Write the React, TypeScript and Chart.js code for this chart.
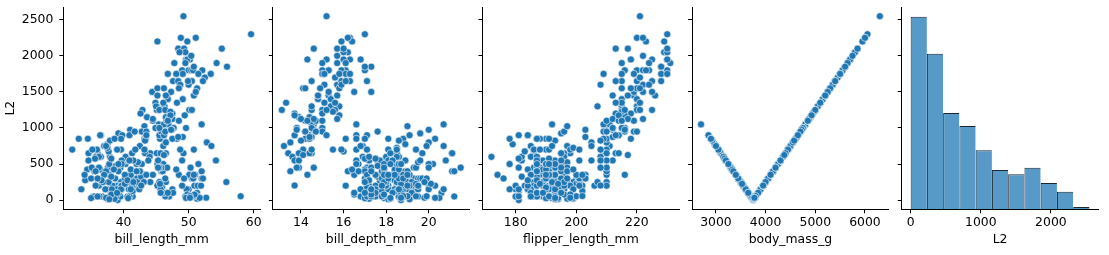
import React, { useEffect, useRef } from "react";
import { Chart, registerables } from "chart.js";

Chart.register(...registerables);

// [bill_length_mm, bill_depth_mm, flipper_length_mm, body_mass_g, L2]
const adelie: number[][] = [
  [39.1,18.7,181,3750,0],[39.5,17.4,186,3800,50],[40.3,18.0,195,3250,500],[36.7,19.3,193,3450,300],[39.3,20.6,190,3650,100],[38.9,17.8,181,3625,125],[39.2,19.6,195,4675,925],[34.1,18.1,193,3475,275],[42.0,20.2,190,4250,500],[37.8,17.1,186,3300,450],
  [37.8,17.3,180,3700,50],[41.1,17.6,182,3200,550],[38.6,21.2,191,3800,51],[34.6,21.1,198,4400,650],[36.6,17.8,185,3700,50],[38.7,19.0,195,3450,300],[42.5,20.7,197,4500,750],[34.4,18.4,184,3325,425],[46.0,21.5,194,4200,450],[37.8,18.3,174,3400,350],
  [37.7,18.7,180,3600,150],[35.9,19.2,189,3800,51],[38.2,18.1,185,3950,200],[38.8,17.2,180,3800,50],[35.3,18.9,187,3800,50],[40.6,18.6,183,3550,200],[40.5,17.9,187,3200,550],[37.9,18.6,172,3150,600],[40.5,18.9,180,3950,200],[39.5,16.7,178,3250,500],
  [37.2,18.1,178,3900,150],[39.5,17.8,188,3300,450],[40.9,18.9,184,3900,150],[36.4,17.0,195,3325,425],[39.2,21.1,196,4150,400],[38.8,20.0,190,3950,200],[42.2,18.5,180,3550,200],[37.6,19.3,181,3300,450],[39.8,19.1,184,4650,900],[36.5,18.0,182,3150,600],
  [40.8,18.4,195,3900,150],[36.0,18.5,186,3100,650],[44.1,19.7,196,4400,650],[37.0,16.9,185,3000,750],[39.6,18.8,190,4600,850],[41.1,19.0,182,3425,325],[37.5,18.9,179,2975,775],[36.0,17.9,190,3450,300],[42.3,21.2,191,4150,400],[39.6,17.7,186,3500,250],
  [40.1,18.9,188,4300,550],[35.0,17.9,190,3450,300],[42.0,19.5,200,4050,300],[34.5,18.1,187,2900,850],[41.4,18.6,191,3700,51],[39.0,17.5,186,3550,200],[40.6,18.8,193,3800,51],[36.5,16.6,181,2850,900],[37.6,19.1,194,3750,13],[35.7,16.9,185,3150,600],
  [41.3,21.1,195,4400,650],[37.6,17.0,185,3600,150],[41.1,18.2,192,4050,300],[36.4,17.1,184,2850,900],[41.6,18.0,192,3950,200],[35.5,16.2,195,3350,400],[41.1,19.1,188,4100,350],[35.9,16.6,190,3050,700],[41.8,19.4,198,4450,700],[33.5,19.0,190,3600,150],
  [39.7,18.4,190,3900,150],[39.6,17.2,196,3550,200],[45.8,18.9,197,4150,400],[35.5,17.5,190,3700,51],[42.8,18.5,195,4250,500],[40.9,16.8,191,3700,51],[37.2,19.4,184,3900,150],[36.2,16.1,187,3550,200],[42.1,19.1,195,4000,250],[34.6,17.2,189,3200,550],
  [42.9,17.6,196,4700,950],[36.7,18.8,187,3800,50],[35.1,19.4,193,4200,450],[37.3,17.8,191,3350,400],[41.3,20.3,194,3550,200],[36.3,19.5,190,3800,51],[36.9,18.6,189,3500,250],[38.3,19.2,189,3950,200],[38.9,18.8,190,3600,150],[35.7,18.0,202,3550,201],
  [41.1,18.1,205,4300,550],[34.0,17.1,185,3400,350],[39.6,18.1,186,4450,700],[36.2,17.3,187,3300,450],[40.8,18.9,208,4300,550],[38.1,18.6,190,3700,51],[40.3,18.5,196,4350,600],[33.1,16.1,178,2900,850],[43.2,18.5,192,4100,350],[35.0,17.9,192,3725,28],
  [41.0,20.0,203,4725,975],[37.7,16.0,183,3075,675],[37.8,20.0,190,4250,500],[37.9,18.6,193,2925,825],[39.7,18.9,184,3550,200],[38.6,17.2,199,3750,18],[38.2,20.0,190,3900,150],[38.1,17.0,181,3175,575],[43.2,19.0,197,4775,1025],[38.1,16.5,198,3825,77],
  [45.6,20.3,191,4600,850],[39.7,17.7,193,3200,550],[42.2,19.5,197,4275,525],[39.6,20.7,191,3900,150],[42.7,18.3,196,4075,325],[38.6,17.0,188,2900,850],[37.3,20.5,199,3775,31],[35.7,17.0,189,3350,400],[41.1,18.6,189,3325,425],[36.2,17.2,187,3150,600],
  [37.7,19.8,198,3500,250],[40.2,17.0,176,3450,300],[41.4,18.5,202,3875,126],[35.2,15.9,186,3050,700],[40.6,19.0,199,4000,250],[38.8,17.6,191,3275,475],[41.5,18.3,195,4300,550],[39.0,17.1,191,3050,700],[44.1,18.0,210,4000,250],[38.5,17.9,190,3325,425],
  [43.1,19.2,197,3500,250],[36.8,18.5,193,3500,250],[37.5,18.5,199,4475,725],[38.1,17.6,187,3425,325],[41.1,17.5,190,3900,150],[35.6,17.5,191,3175,575],[40.2,20.1,200,3975,226],[37.0,16.5,185,3400,350],[39.7,17.9,193,4250,500],[40.2,17.1,193,3400,350],
  [40.6,17.2,187,3475,275],[32.1,15.5,188,3050,700],[40.7,17.0,190,3725,27],[37.3,16.8,192,3000,750],[39.0,18.7,185,3650,100],[39.2,18.6,190,4250,500],[36.6,18.4,184,3475,275],[36.0,17.8,195,3450,300],[37.8,18.1,193,3750,12],[36.0,17.1,187,3700,50],
  [41.5,18.5,201,4000,250],
];

const chinstrap: number[][] = [
  [46.5,17.9,192,3500,250],[50.0,19.5,196,3900,150],[51.3,19.2,193,3650,101],[45.4,18.7,188,3525,225],[52.7,19.8,197,3725,33],[45.2,17.8,198,3950,200],[46.1,18.2,178,3250,500],[51.3,18.2,197,3750,20],[46.0,18.9,195,4150,400],[51.3,19.9,198,3700,54],
  [46.6,17.8,193,3800,52],[51.7,20.3,194,3775,31],[47.0,17.3,185,3700,51],[52.0,18.1,201,4050,300],[45.9,17.1,190,3575,175],[50.5,19.6,201,4050,300],[50.3,20.0,197,3300,450],[58.0,17.8,181,3700,54],[46.4,18.6,190,3450,300],[49.2,18.2,195,4400,650],
  [42.4,17.3,181,3600,150],[48.5,17.5,191,3400,350],[43.2,16.6,187,2900,850],[50.6,19.4,193,3800,53],[46.7,17.9,195,3300,450],[52.0,19.0,197,4150,400],[50.5,18.4,200,3400,350],[49.5,19.0,200,3800,54],[46.4,17.8,191,3700,52],[52.8,20.0,205,4550,800],
  [40.9,16.6,187,3200,550],[54.2,20.8,201,4300,550],[42.5,16.7,187,3350,400],[51.0,18.8,203,4100,350],[49.7,18.6,195,3600,150],[47.5,16.8,199,3900,150],[47.6,18.3,195,3850,101],[52.0,20.7,210,4800,1050],[46.9,16.6,192,2700,1050],[53.5,19.9,205,4500,750],
  [49.0,19.5,210,3950,200],[46.2,17.5,187,3650,100],[50.9,19.1,196,3550,200],[45.5,17.0,196,3500,250],[50.9,17.9,196,3675,77],[50.8,18.5,201,4450,700],[50.1,17.9,190,3400,350],[49.0,19.6,212,4300,550],[51.5,18.7,187,3250,500],[49.8,17.3,198,3675,78],
  [48.1,16.4,199,3325,425],[51.4,19.0,201,3950,200],[45.7,17.3,193,3600,150],[50.7,19.7,203,4050,300],[42.5,17.3,187,3350,400],[52.2,18.8,197,3450,300],[45.2,16.6,191,3250,500],[49.3,19.9,203,4050,300],[50.2,18.8,202,3800,56],[45.6,19.4,194,3525,225],
  [51.9,19.5,206,3950,200],[46.8,16.5,189,3650,101],[45.7,17.0,195,3650,101],[55.8,19.8,207,4000,250],[43.5,18.1,202,3400,350],[49.6,18.2,193,3775,30],[50.8,19.0,210,4100,350],[50.2,18.7,198,3775,32],
];

const gentoo: number[][] = [
  [46.1,13.2,211,4500,750],[50.0,16.3,230,5700,1950],[48.7,14.1,210,4450,700],[50.0,15.2,218,5700,1950],[47.6,14.5,215,5400,1650],[46.5,13.5,210,4550,800],[45.4,14.6,211,4800,1050],[46.7,15.3,219,5200,1450],[43.3,13.4,209,4400,650],[46.8,15.4,215,5150,1400],
  [40.9,13.7,214,4650,900],[49.0,16.1,216,5550,1800],[45.5,13.7,214,4650,900],[48.4,14.6,213,5850,2100],[45.8,14.6,210,4200,450],[49.3,15.7,217,5850,2100],[42.0,13.5,210,4150,400],[49.2,15.2,221,6300,2550],[46.2,14.5,209,4800,1050],[48.7,15.1,222,5350,1600],
  [50.2,14.3,218,5700,1950],[45.1,14.5,215,5000,1250],[46.5,14.5,213,4400,650],[46.3,15.8,215,5050,1300],[42.9,13.1,215,5000,1250],[46.1,15.1,215,5100,1350],[44.5,14.3,216,4100,351],[47.8,15.0,215,5650,1900],[48.2,14.3,210,4600,850],[50.0,15.3,220,5550,1800],
  [47.3,15.3,222,5250,1500],[42.8,14.2,209,4700,950],[45.1,14.5,207,5050,1300],[59.6,17.0,230,6050,2300],[49.1,14.8,220,5150,1400],[48.4,16.3,220,5400,1650],[42.6,13.7,213,4950,1200],[44.4,17.3,219,5250,1500],[44.0,13.6,208,4350,600],[48.7,15.7,208,5350,1600],
  [42.7,13.7,208,3950,202],[49.6,16.0,225,5700,1950],[45.3,13.7,210,4300,550],[49.6,15.0,216,4750,1000],[50.5,15.9,222,5550,1800],[43.6,13.9,217,4900,1150],[45.5,13.9,210,4200,450],[50.5,15.9,225,5400,1650],[44.9,13.3,213,5100,1350],[45.2,15.8,215,5300,1550],
  [46.6,14.2,210,4850,1100],[48.5,14.1,220,5300,1550],[45.1,14.4,210,4400,650],[50.1,15.0,225,5000,1250],[46.5,14.4,217,4900,1150],[45.0,15.4,220,5050,1300],[43.8,13.9,208,4300,550],[45.5,15.0,220,5000,1250],[43.2,14.5,208,4450,700],[50.4,15.3,224,5550,1800],
  [45.3,13.8,208,4200,450],[46.2,14.9,221,5300,1550],[45.7,13.9,214,4400,650],[54.3,15.7,231,5650,1900],[45.8,14.2,219,4700,950],[49.8,16.8,230,5700,1950],[46.2,14.4,214,4650,900],[49.5,16.2,229,5800,2050],[43.5,14.2,220,4700,950],[50.7,15.0,223,5550,1800],
  [47.7,15.0,216,4750,1000],[46.4,15.6,221,5000,1250],[48.2,15.6,221,5100,1350],[46.5,14.8,217,5200,1450],[46.4,15.0,216,4700,950],[48.6,16.0,230,5800,2050],[47.5,14.2,209,4600,850],[51.1,16.3,220,6000,2250],[45.2,13.8,215,4750,1000],[45.2,16.4,223,5950,2200],
  [49.1,14.5,212,4625,875],[52.5,15.6,221,5450,1700],[47.4,14.6,212,4725,975],[50.0,15.9,224,5350,1600],[44.9,13.8,212,4750,1000],[50.8,17.3,228,5600,1850],[43.4,14.4,218,4600,850],[51.3,14.2,218,5300,1550],[47.5,14.0,212,4875,1125],[52.1,17.0,230,5550,1800],
  [47.5,15.0,218,4950,1200],[52.2,17.1,228,5400,1650],[45.5,14.5,212,4750,1000],[49.5,16.1,224,5650,1900],[44.5,14.7,214,4850,1100],[50.8,15.7,226,5200,1450],[49.4,15.8,216,4925,1175],[46.9,14.6,222,4875,1125],[48.4,14.4,203,4625,875],[51.1,16.5,225,5250,1500],
  [48.5,15.0,219,4850,1100],[55.9,17.0,228,5600,1850],[47.2,15.5,215,4975,1225],[49.1,15.0,228,5500,1750],[47.3,13.8,216,4725,975],[46.8,16.1,215,5500,1750],[41.7,14.7,210,4700,950],[53.4,15.8,219,5500,1750],[43.3,14.0,208,4575,825],[48.1,15.1,209,5500,1750],
  [50.5,15.2,216,5000,1250],[49.8,15.9,229,5950,2200],[43.5,15.2,213,4650,900],[51.5,16.3,230,5500,1750],[46.2,14.1,217,4375,625],[55.1,16.0,230,5850,2100],[44.5,15.7,217,4875,1125],[48.8,16.2,222,6000,2250],[47.2,13.7,214,4925,1175],[46.8,14.3,215,4850,1100],
  [50.4,15.7,222,5750,2000],[45.2,14.8,212,5200,1450],[49.9,16.1,213,5400,1650],
];

const featureNames = ["bill_length_mm", "bill_depth_mm", "flipper_length_mm", "body_mass_g"];
const featureRanges = [[30.725, 60.975], [12.68, 21.92], [169.05, 233.95], [2520, 6480]];
const featureTicks = [[40, 50, 60], [14, 16, 18, 20], [180, 200, 220], [3000, 4000, 5000, 6000]];

const l2Label = "L2";
const l2Range = [-127.5, 2677.5];
const l2Ticks = [0, 500, 1000, 1500, 2000, 2500];

const histEdges = [0, 231.8, 463.6, 695.5, 927.3, 1159.1, 1390.9, 1622.7, 1854.5, 2086.4, 2318.2, 2550];
const histCounts = [88, 71, 44, 38, 27, 18, 16, 19, 12, 8, 1];
const histTicks = [0, 1000, 2000];
const histCountMax = 92.4;

// layout (pixels)
const PLOT_LEFTS = [63.3, 272.9, 482.5, 692.1, 901.7];
const PLOT_W = 196.7;
const PLOT_TOP = 7;
const PLOT_BOTTOM = 209.3;
const H = 255;
const RIGHT_ROOM = 14;

const FONT = { family: "'DejaVu Sans', sans-serif", size: 12.4 };
const INK = "#000000";
const POINT_COLOR = "#1f77b4";

const gridOpts = { display: true, drawOnChartArea: false, drawTicks: true, tickLength: 4, color: INK, lineWidth: 1, offset: false };
const borderOpts = { display: true, color: INK, width: 1 };

function panelGeom(i: number) {
  const canvasLeft = i === 0 ? 0 : Math.round(PLOT_LEFTS[i]) - 10;
  const yAxisW = PLOT_LEFTS[i] - canvasLeft;
  const width = Math.ceil(yAxisW + PLOT_W + RIGHT_ROOM);
  const padRight = width - yAxisW - PLOT_W;
  return { canvasLeft, yAxisW, width, padRight };
}

function xAxis(range: number[], ticks: number[], title: string) {
  return {
    type: "linear",
    position: "bottom",
    min: range[0],
    max: range[1],
    bounds: "data",
    offset: false,
    afterBuildTicks: (s: any) => { s.ticks = ticks.map((v) => ({ value: v })); },
    afterFit: (s: any) => { s.height = H - PLOT_BOTTOM; s.paddingLeft = 0; s.paddingRight = 0; },
    grid: gridOpts,
    border: borderOpts,
    ticks: { color: INK, font: FONT, padding: 2.5, maxRotation: 0, minRotation: 0, autoSkip: false, callback: (v: any) => String(v) },
    title: { display: true, text: title, color: INK, font: FONT, padding: { top: 0, bottom: 7.6 } },
  };
}

function yAxis(yAxisW: number, showLabels: boolean) {
  return {
    type: "linear",
    position: "left",
    min: l2Range[0],
    max: l2Range[1],
    bounds: "data",
    afterBuildTicks: (s: any) => { s.ticks = l2Ticks.map((v) => ({ value: v })); },
    afterFit: (s: any) => { s.width = yAxisW; s.paddingTop = 0; s.paddingBottom = 0; },
    grid: gridOpts,
    border: borderOpts,
    ticks: { display: showLabels, color: INK, font: FONT, padding: 6, autoSkip: false, callback: (v: any) => String(v) },
    title: { display: showLabels, text: l2Label, color: INK, font: FONT, padding: { top: 3.6, bottom: 0 } },
  };
}

const allRows = [...adelie, ...chinstrap, ...gentoo];

function scatterConfig(i: number) {
  const g = panelGeom(i);
  return {
    type: "scatter",
    data: {
      datasets: [{
        data: allRows.map((r) => ({ x: r[i], y: r[4] })),
        backgroundColor: POINT_COLOR,
        borderColor: "#ffffff",
        borderWidth: 0.6,
        pointRadius: 3.55,
        pointHoverRadius: 3.55,
      }],
    },
    options: {
      responsive: false,
      animation: false,
      events: [],
      layout: { padding: { top: PLOT_TOP, right: g.padRight, bottom: 0, left: 0 } },
      plugins: { legend: { display: false }, tooltip: { enabled: false } },
      scales: {
        x: xAxis(featureRanges[i], featureTicks[i], featureNames[i]),
        y: yAxis(g.yAxisW, i === 0),
      },
    },
  };
}

function histConfig() {
  const g = panelGeom(4);
  const last = histCounts.length - 1;
  return {
    type: "bar",
    data: {
      datasets: [{
        data: histCounts.map((c, k) => ({ x: (histEdges[k] + histEdges[k + 1]) / 2, y: c })),
        xAxisID: "x",
        yAxisID: "yc",
        backgroundColor: "#5799c7",
        borderColor: "#1c2631",
        borderWidth: (ctx: any) => ({ left: 1, top: 1, bottom: 0, right: ctx.dataIndex === last ? 1 : 0 }),
        borderSkipped: false,
        barPercentage: 1,
        categoryPercentage: 1,
        grouped: false,
        inflateAmount: 0,
      }],
    },
    options: {
      responsive: false,
      animation: false,
      events: [],
      layout: { padding: { top: PLOT_TOP, right: g.padRight, bottom: 0, left: 0 } },
      plugins: { legend: { display: false }, tooltip: { enabled: false } },
      scales: {
        x: xAxis([l2Range[0], l2Range[1]], histTicks, l2Label),
        y: yAxis(g.yAxisW, false),
        yc: { type: "linear", position: "right", display: false, min: 0, max: histCountMax },
      },
    },
  };
}

export default function App() {
  const refs = useRef<(HTMLCanvasElement | null)[]>([]);

  useEffect(() => {
    const charts: Chart[] = [];
    for (let i = 0; i < 5; i++) {
      const c = refs.current[i];
      if (!c) continue;
      const cfg: any = i < 4 ? scatterConfig(i) : histConfig();
      charts.push(new Chart(c, cfg));
    }
    return () => { charts.forEach((ch) => ch.destroy()); };
  }, []);

  return (
    <div style={{ position: "absolute", left: 0, top: 0, width: 1109, height: H, background: "#ffffff", overflow: "hidden" }}>
      {[0, 1, 2, 3, 4].map((i) => {
        const g = panelGeom(i);
        return (
          <canvas
            key={i}
            ref={(el) => { refs.current[i] = el; }}
            width={g.width}
            height={H}
            style={{ position: "absolute", left: g.canvasLeft, top: 0, width: g.width, height: H }}
          />
        );
      })}
    </div>
  );
}
